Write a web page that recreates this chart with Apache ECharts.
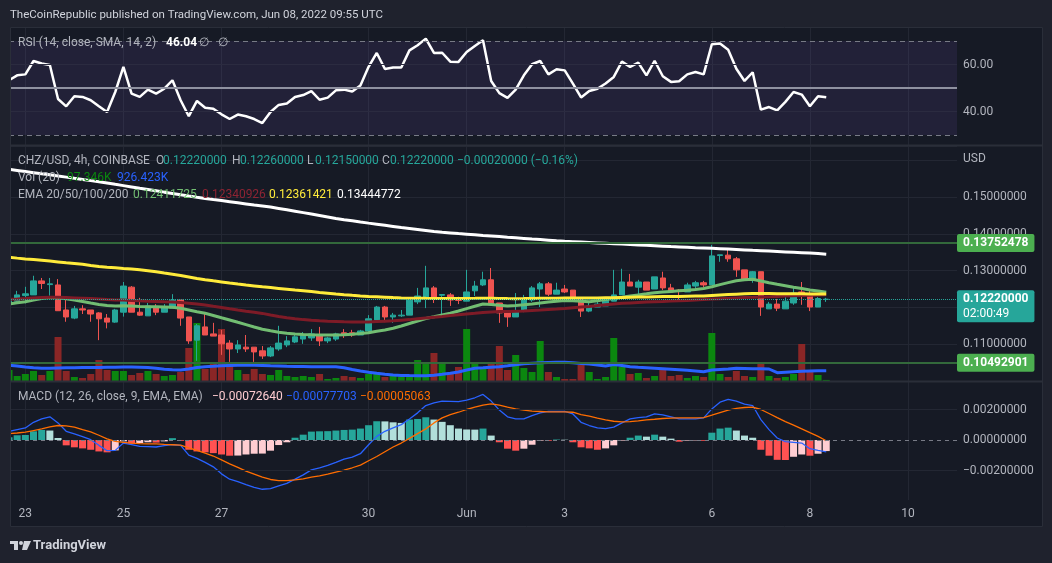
<!DOCTYPE html>
<html>
<head>
<meta charset="utf-8">
<title>CHZ/USD 4h - TradingView</title>
<script src="https://cdn.jsdelivr.net/npm/echarts@6/dist/echarts.min.js"></script>
<style>
  html, body { margin: 0; padding: 0; background: #1f222d; }
  #chart { width: 1052px; height: 563px; }
</style>
</head>
<body>
<div id="chart"></div>
<script>
// ---------- values ----------
const firstBarTime = Date.UTC(2022, 4, 22, 16); // first 4h bar, partly hidden at the left edge
const barCount = 117;                            // bars + empty slots up to the price scale
const tickDays = [23, 25, 27, 30, 1, 3, 6, 8, 10];

// [open, close, low, high]
const candles = [
  [0.1212, 0.1220, 0.1207, 0.1223], [0.1217, 0.1234, 0.1211, 0.1245], [0.1232, 0.1237, 0.1211, 0.1256],
  [0.1234, 0.1272, 0.1234, 0.1286], [0.1272, 0.1265, 0.1250, 0.1280], [0.1262, 0.1264, 0.1232, 0.1280],
  [0.1261, 0.1191, 0.1191, 0.1277], [0.1193, 0.1174, 0.1161, 0.1222], [0.1171, 0.1196, 0.1168, 0.1204],
  [0.1196, 0.1193, 0.1182, 0.1206], [0.1193, 0.1182, 0.1161, 0.1193], [0.1185, 0.1169, 0.1111, 0.1187],
  [0.1171, 0.1160, 0.1143, 0.1182], [0.1160, 0.1193, 0.1158, 0.1196], [0.1187, 0.1258, 0.1175, 0.1269],
  [0.1255, 0.1187, 0.1187, 0.1258], [0.1187, 0.1179, 0.1177, 0.1226], [0.1177, 0.1204, 0.1177, 0.1212],
  [0.1201, 0.1187, 0.1179, 0.1209], [0.1187, 0.1201, 0.1187, 0.1209], [0.1198, 0.1220, 0.1198, 0.1236],
  [0.1220, 0.1171, 0.1150, 0.1220], [0.1174, 0.1109, 0.1101, 0.1174], [0.1111, 0.1150, 0.1055, 0.1155],
  [0.1147, 0.1125, 0.1125, 0.1182], [0.1128, 0.1122, 0.1122, 0.1158], [0.1125, 0.1101, 0.1071, 0.1139],
  [0.1103, 0.1087, 0.1052, 0.1111], [0.1087, 0.1098, 0.1076, 0.1111], [0.1092, 0.1087, 0.1079, 0.1125],
  [0.1092, 0.1079, 0.1052, 0.1092], [0.1082, 0.1068, 0.1060, 0.1095], [0.1068, 0.1090, 0.1065, 0.1095],
  [0.1087, 0.1103, 0.1082, 0.1150], [0.1098, 0.1109, 0.1092, 0.1122], [0.1106, 0.1120, 0.1103, 0.1125],
  [0.1114, 0.1125, 0.1101, 0.1133], [0.1117, 0.1128, 0.1109, 0.1141], [0.1125, 0.1109, 0.1095, 0.1147],
  [0.1109, 0.1117, 0.1103, 0.1120], [0.1114, 0.1128, 0.1109, 0.1131], [0.1131, 0.1125, 0.1117, 0.1141],
  [0.1131, 0.1125, 0.1120, 0.1139], [0.1125, 0.1136, 0.1125, 0.1139], [0.1136, 0.1169, 0.1128, 0.1179],
  [0.1166, 0.1201, 0.1166, 0.1204], [0.1201, 0.1174, 0.1160, 0.1204], [0.1174, 0.1179, 0.1158, 0.1185],
  [0.1177, 0.1179, 0.1174, 0.1193], [0.1179, 0.1220, 0.1179, 0.1220], [0.1215, 0.1231, 0.1209, 0.1253],
  [0.1228, 0.1253, 0.1198, 0.1313], [0.1253, 0.1228, 0.1212, 0.1258], [0.1233, 0.1235, 0.1179, 0.1236],
  [0.1234, 0.1220, 0.1204, 0.1239], [0.1223, 0.1219, 0.1209, 0.1229], [0.1217, 0.1242, 0.1217, 0.1302],
  [0.1245, 0.1258, 0.1231, 0.1272], [0.1261, 0.1275, 0.1258, 0.1297], [0.1275, 0.1207, 0.1207, 0.1307],
  [0.1212, 0.1185, 0.1158, 0.1212], [0.1187, 0.1174, 0.1147, 0.1187], [0.1174, 0.1190, 0.1174, 0.1239],
  [0.1190, 0.1223, 0.1187, 0.1234], [0.1220, 0.1253, 0.1215, 0.1258], [0.1250, 0.1264, 0.1201, 0.1269],
  [0.1264, 0.1236, 0.1231, 0.1269], [0.1236, 0.1247, 0.1236, 0.1267], [0.1250, 0.1242, 0.1239, 0.1261],
  [0.1247, 0.1220, 0.1220, 0.1247], [0.1223, 0.1190, 0.1174, 0.1228], [0.1190, 0.1204, 0.1187, 0.1212],
  [0.1201, 0.1209, 0.1201, 0.1215], [0.1204, 0.1220, 0.1204, 0.1226], [0.1217, 0.1234, 0.1217, 0.1302],
  [0.1234, 0.1269, 0.1234, 0.1305], [0.1269, 0.1258, 0.1258, 0.1291], [0.1255, 0.1269, 0.1236, 0.1275],
  [0.1269, 0.1247, 0.1247, 0.1269], [0.1250, 0.1283, 0.1250, 0.1283], [0.1280, 0.1253, 0.1247, 0.1297],
  [0.1253, 0.1242, 0.1242, 0.1264], [0.1247, 0.1245, 0.1220, 0.1250], [0.1242, 0.1261, 0.1242, 0.1267],
  [0.1258, 0.1267, 0.1247, 0.1272], [0.1267, 0.1261, 0.1255, 0.1272], [0.1261, 0.1340, 0.1261, 0.1370],
  [0.1341, 0.1343, 0.1324, 0.1343], [0.1342, 0.1332, 0.1324, 0.1356], [0.1332, 0.1302, 0.1283, 0.1337],
  [0.1302, 0.1277, 0.1277, 0.1302], [0.1277, 0.1297, 0.1267, 0.1299], [0.1297, 0.1201, 0.1177, 0.1297],
  [0.1196, 0.1209, 0.1196, 0.1215], [0.1209, 0.1198, 0.1190, 0.1223], [0.1196, 0.1217, 0.1196, 0.1228],
  [0.1212, 0.1239, 0.1207, 0.1253], [0.1242, 0.1231, 0.1207, 0.1269], [0.1231, 0.1201, 0.1190, 0.1250],
  [0.1201, 0.1224, 0.1201, 0.1228], [0.1222, 0.1222, 0.1215, 0.1226]
];

// volume in thousands
const volumeK = [
  990, 450, 630, 900, 540, 900, 3960, 900, 360, 270,
  630, 1890, 990, 900, 900, 540, 720, 900, 630, 450,
  540, 810, 2970, 5220, 1080, 1530, 4680, 1530, 990, 630,
  1080, 630, 540, 990, 450, 360, 450, 360, 630, 180,
  270, 450, 360, 270, 630, 630, 360, 450, 360, 450,
  1890, 1710, 2520, 1530, 720, 1260, 4680, 1710, 1170, 1530,
  3150, 990, 2340, 1170, 810, 3600, 810, 360, 180, 180,
  1440, 810, 180, 360, 3870, 1260, 630, 720, 270, 450,
  990, 450, 540, 270, 450, 360, 4320, 630, 360, 900,
  450, 360, 1620, 450, 270, 360, 630, 3330, 810, 540,
  97.346
];
const volumeMaK = [
  1413, 1350, 1260, 1188, 1143, 1143, 1170, 1188, 1197, 1206,
  1215, 1224, 1233, 1242, 1251, 1260, 1242, 1215, 1143, 1062,
  1008, 990, 1080, 1215, 1287, 1323, 1368, 1395, 1422, 1440,
  1422, 1395, 1368, 1350, 1323, 1305, 1296, 1287, 1287, 1287,
  1278, 1188, 1035, 900, 792, 693, 612, 540, 504, 486,
  477, 477, 522, 603, 702, 810, 990, 1143, 1188, 1242,
  1287, 1368, 1458, 1548, 1593, 1638, 1665, 1683, 1683, 1638,
  1584, 1530, 1440, 1350, 1485, 1395, 1287, 1233, 1188, 1143,
  1098, 1053, 1008, 963, 900, 837, 990, 1035, 1080, 1143,
  1125, 1107, 1098, 1080, 747, 792, 837, 882, 900, 918,
  926.423
];

const ema20 = [
  0.12092, 0.12125, 0.12155, 0.12201, 0.12242, 0.12269, 0.12261, 0.12234, 0.12201, 0.12160,
  0.12119, 0.12079, 0.12052, 0.12038, 0.12043, 0.12038, 0.12027, 0.12019, 0.12016, 0.12011,
  0.12005, 0.11975, 0.11929, 0.11880, 0.11840, 0.11780, 0.11717, 0.11658, 0.11595, 0.11533,
  0.11467, 0.11405, 0.11364, 0.11326, 0.11296, 0.11277, 0.11264, 0.11255, 0.11250, 0.11247,
  0.11250, 0.11255, 0.11269, 0.11288, 0.11312, 0.11353, 0.11386, 0.11432, 0.11494, 0.11562,
  0.11630, 0.11698, 0.11744, 0.11793, 0.11840, 0.11902, 0.11967, 0.12030, 0.12092, 0.12079,
  0.12057, 0.12038, 0.12052, 0.12071, 0.12092, 0.12119, 0.12147, 0.12168, 0.12187, 0.12179,
  0.12166, 0.12155, 0.12179, 0.12212, 0.12242, 0.12274, 0.12307, 0.12340, 0.12369, 0.12399,
  0.12418, 0.12435, 0.12451, 0.12467, 0.12486, 0.12514, 0.12562, 0.12620, 0.12674, 0.12725,
  0.12750, 0.12763, 0.12717, 0.12671, 0.12628, 0.12587, 0.12546, 0.12514, 0.12475, 0.12446,
  0.12411725
];
const ema50 = [
  0.12220, 0.12228, 0.12239, 0.12253, 0.12266, 0.12274, 0.12274, 0.12266, 0.12258, 0.12250,
  0.12239, 0.12228, 0.12215, 0.12204, 0.12198, 0.12190, 0.12179, 0.12168, 0.12160, 0.12152,
  0.12147, 0.12136, 0.12114, 0.12092, 0.12065, 0.12030, 0.11997, 0.11962, 0.11929, 0.11897,
  0.11867, 0.11837, 0.11793, 0.11753, 0.11717, 0.11690, 0.11668, 0.11649, 0.11636, 0.11625,
  0.11617, 0.11609, 0.11603, 0.11600, 0.11603, 0.11614, 0.11625, 0.11636, 0.11652, 0.11668,
  0.11690, 0.11712, 0.11734, 0.11755, 0.11777, 0.11799, 0.11821, 0.11842, 0.11864, 0.11878,
  0.11886, 0.11891, 0.11897, 0.11902, 0.11916, 0.11929, 0.11943, 0.11956, 0.11970, 0.11989,
  0.12008, 0.12027, 0.12049, 0.12071, 0.12092, 0.12111, 0.12122, 0.12133, 0.12144, 0.12155,
  0.12163, 0.12174, 0.12182, 0.12190, 0.12201, 0.12212, 0.12225, 0.12236, 0.12247, 0.12258,
  0.12266, 0.12274, 0.12283, 0.12291, 0.12299, 0.12307, 0.12315, 0.12323, 0.12329, 0.12334,
  0.12340926
];
const ema100 = [
  0.13361, 0.13339, 0.13318, 0.13299, 0.13280, 0.13258, 0.13236, 0.13214, 0.13193, 0.13171,
  0.13138, 0.13111, 0.13092, 0.13076, 0.13059, 0.13043, 0.13021, 0.12997, 0.12967, 0.12934,
  0.12902, 0.12866, 0.12826, 0.12785, 0.12752, 0.12722, 0.12693, 0.12663, 0.12635, 0.12608,
  0.12584, 0.12559, 0.12538, 0.12516, 0.12494, 0.12472, 0.12451, 0.12429, 0.12407, 0.12386,
  0.12364, 0.12345, 0.12328, 0.12312, 0.12299, 0.12288, 0.12277, 0.12266, 0.12258, 0.12252,
  0.12250, 0.12247, 0.12245, 0.12245, 0.12244, 0.12243, 0.12244, 0.12246, 0.12250, 0.12249,
  0.12245, 0.12240, 0.12238, 0.12240, 0.12243, 0.12248, 0.12250, 0.12252, 0.12255, 0.12257,
  0.12255, 0.12256, 0.12258, 0.12261, 0.12264, 0.12270, 0.12275, 0.12280, 0.12284, 0.12290,
  0.12294, 0.12297, 0.12299, 0.12303, 0.12307, 0.12310, 0.12325, 0.12338, 0.12350, 0.12360,
  0.12368, 0.12376, 0.12378, 0.12376, 0.12373, 0.12371, 0.12370, 0.12368, 0.12364, 0.12363,
  0.12361421
];
const ema200 = [
  0.15752, 0.15722, 0.15692, 0.15662, 0.15632, 0.15603, 0.15570, 0.15540, 0.15507, 0.15478,
  0.15445, 0.15415, 0.15380, 0.15344, 0.15309, 0.15274, 0.15238, 0.15203, 0.15168, 0.15132,
  0.15097, 0.15062, 0.15026, 0.14991, 0.14961, 0.14931, 0.14902, 0.14872, 0.14842, 0.14812,
  0.14782, 0.14755, 0.14728, 0.14690, 0.14652, 0.14614, 0.14576, 0.14538, 0.14497, 0.14456,
  0.14415, 0.14383, 0.14353, 0.14320, 0.14290, 0.14261, 0.14231, 0.14201, 0.14171, 0.14144,
  0.14117, 0.14090, 0.14063, 0.14043, 0.14024, 0.14005, 0.13989, 0.13973, 0.13956, 0.13940,
  0.13924, 0.13907, 0.13891, 0.13875, 0.13858, 0.13842, 0.13826, 0.13809, 0.13796, 0.13785,
  0.13774, 0.13763, 0.13752, 0.13741, 0.13730, 0.13720, 0.13709, 0.13698, 0.13687, 0.13676,
  0.13665, 0.13654, 0.13644, 0.13633, 0.13622, 0.13614, 0.13606, 0.13595, 0.13584, 0.13573,
  0.13562, 0.13551, 0.13541, 0.13530, 0.13519, 0.13508, 0.13497, 0.13486, 0.13475, 0.13462,
  0.13444772
];

const rsi = [
  53.3, 55.4, 55.8, 61.5, 60.4, 59.8, 45.3, 42.2, 46.5, 46.2,
  44.8, 42.2, 39.8, 48.3, 59.0, 47.6, 46.2, 49.3, 47.6, 49.7,
  53.3, 44.8, 38.0, 44.5, 41.6, 41.2, 38.8, 36.8, 38.7, 38.0,
  36.8, 35.1, 39.8, 42.8, 43.4, 46.2, 47.0, 48.7, 45.0, 45.9,
  49.0, 49.3, 48.5, 51.1, 59.0, 64.9, 58.1, 58.7, 58.7, 66.0,
  68.2, 71.0, 64.9, 65.0, 61.2, 61.1, 65.3, 67.9, 70.3, 53.0,
  47.8, 45.8, 49.3, 55.4, 60.1, 61.5, 55.8, 58.0, 57.5, 51.9,
  46.0, 48.7, 49.7, 51.9, 54.7, 61.2, 59.0, 60.8, 55.4, 61.6,
  55.0, 52.6, 52.9, 55.8, 56.8, 55.8, 68.6, 68.9, 66.3, 58.2,
  53.0, 56.7, 40.8, 41.9, 40.5, 44.1, 48.3, 47.2, 42.2, 46.5,
  46.04
];
const rsiUpper = 70;
const rsiMiddle = 50;
const rsiLower = 30;

const macdLine = [
  0.57e-3, 0.68e-3, 0.79e-3, 1.16e-3, 1.38e-3, 1.52e-3, 1.12e-3, 0.57e-3, 0.40e-3, 0.22e-3,
  0.02e-3, -0.35e-3, -0.70e-3, -0.68e-3, -0.20e-3, -0.31e-3, -0.42e-3, -0.44e-3, -0.46e-3, -0.37e-3,
  -0.31e-3, -0.35e-3, -0.99e-3, -1.21e-3, -1.47e-3, -1.76e-3, -2.22e-3, -2.57e-3, -2.73e-3, -2.92e-3,
  -3.10e-3, -3.23e-3, -3.19e-3, -3.01e-3, -2.84e-3, -2.57e-3, -2.29e-3, -1.96e-3, -1.82e-3, -1.67e-3,
  -1.47e-3, -1.25e-3, -1.12e-3, -0.90e-3, -0.31e-3, 0.24e-3, 0.57e-3, 0.79e-3, 1.01e-3, 1.38e-3,
  1.78e-3, 2.26e-3, 2.44e-3, 2.55e-3, 2.53e-3, 2.51e-3, 2.62e-3, 2.77e-3, 2.99e-3, 2.55e-3,
  1.96e-3, 1.52e-3, 1.38e-3, 1.38e-3, 1.60e-3, 1.78e-3, 1.87e-3, 1.87e-3, 1.87e-3, 1.71e-3,
  1.16e-3, 0.95e-3, 0.79e-3, 0.75e-3, 0.84e-3, 1.12e-3, 1.38e-3, 1.47e-3, 1.52e-3, 1.71e-3,
  1.65e-3, 1.52e-3, 1.38e-3, 1.38e-3, 1.38e-3, 1.45e-3, 2.04e-3, 2.48e-3, 2.66e-3, 2.55e-3,
  2.35e-3, 2.26e-3, 1.34e-3, 0.68e-3, 0.13e-3, -0.11e-3, -0.15e-3, -0.20e-3, -0.57e-3, -0.68e-3,
  -0.77703e-3
];
const signalLine = [
  0.42e-3, 0.46e-3, 0.51e-3, 0.62e-3, 0.73e-3, 0.86e-3, 0.95e-3, 0.92e-3, 0.84e-3, 0.68e-3,
  0.53e-3, 0.31e-3, 0.07e-3, -0.09e-3, -0.15e-3, -0.20e-3, -0.24e-3, -0.26e-3, -0.26e-3, -0.29e-3,
  -0.31e-3, -0.33e-3, -0.51e-3, -0.68e-3, -0.86e-3, -1.05e-3, -1.30e-3, -1.56e-3, -1.80e-3, -2.04e-3,
  -2.24e-3, -2.44e-3, -2.59e-3, -2.66e-3, -2.66e-3, -2.62e-3, -2.55e-3, -2.44e-3, -2.35e-3, -2.24e-3,
  -2.11e-3, -1.98e-3, -1.82e-3, -1.65e-3, -1.36e-3, -1.08e-3, -0.77e-3, -0.46e-3, -0.20e-3, 0.11e-3,
  0.42e-3, 0.73e-3, 1.12e-3, 1.45e-3, 1.67e-3, 1.82e-3, 2.00e-3, 2.15e-3, 2.29e-3, 2.37e-3,
  2.29e-3, 2.15e-3, 2.04e-3, 1.96e-3, 1.89e-3, 1.87e-3, 1.85e-3, 1.85e-3, 1.85e-3, 1.82e-3,
  1.67e-3, 1.56e-3, 1.43e-3, 1.32e-3, 1.23e-3, 1.19e-3, 1.21e-3, 1.25e-3, 1.32e-3, 1.36e-3,
  1.41e-3, 1.43e-3, 1.45e-3, 1.45e-3, 1.45e-3, 1.47e-3, 1.63e-3, 1.80e-3, 1.96e-3, 2.07e-3,
  2.13e-3, 2.15e-3, 2.00e-3, 1.74e-3, 1.47e-3, 1.21e-3, 0.97e-3, 0.73e-3, 0.48e-3, 0.24e-3,
  -0.05063e-3
];
const macdHist = [
  0.18e-3, 0.31e-3, 0.33e-3, 0.57e-3, 0.66e-3, 0.62e-3, 0.13e-3, -0.35e-3, -0.48e-3, -0.55e-3,
  -0.64e-3, -0.75e-3, -0.81e-3, -0.68e-3, -0.09e-3, -0.24e-3, -0.20e-3, -0.15e-3, -0.17e-3, -0.09e-3,
  0.12e-3, -0.05e-3, -0.64e-3, -0.75e-3, -0.81e-3, -0.86e-3, -0.95e-3, -1.03e-3, -1.02e-3, -0.95e-3,
  -0.90e-3, -0.89e-3, -0.70e-3, -0.33e-3, -0.15e-3, 0.15e-3, 0.35e-3, 0.55e-3, 0.57e-3, 0.58e-3,
  0.62e-3, 0.66e-3, 0.68e-3, 0.75e-3, 0.97e-3, 1.23e-3, 1.22e-3, 1.16e-3, 1.12e-3, 1.34e-3,
  1.38e-3, 1.49e-3, 1.34e-3, 1.19e-3, 0.97e-3, 0.75e-3, 0.69e-3, 0.68e-3, 0.75e-3, 0.29e-3,
  -0.15e-3, -0.57e-3, -0.70e-3, -0.57e-3, -0.31e-3, -0.04e-3, -0.05e-3, 0.03e-3, 0.02e-3, -0.15e-3,
  -0.48e-3, -0.55e-3, -0.64e-3, -0.55e-3, -0.35e-3, -0.04e-3, 0.15e-3, 0.29e-3, 0.22e-3, 0.35e-3,
  0.22e-3, 0.09e-3, -0.11e-3, -0.04e-3, -0.03e-3, -0.05e-3, 0.48e-3, 0.75e-3, 0.81e-3, 0.62e-3,
  0.29e-3, 0.15e-3, -0.64e-3, -1.03e-3, -1.30e-3, -1.31e-3, -1.10e-3, -0.95e-3, -1.03e-3, -0.90e-3,
  -0.72640e-3
];

const levelLines = [0.13752478, 0.10492901];
const lastPrice = 0.1222;
const countdown = '02:00:49';

// ---------- look ----------
const FONT = 'Roboto, "Liberation Sans", sans-serif';
const C = {
  pane: '#161a25',
  outer: '#1f222d',
  border: '#2a2e39',
  grid: '#232733',
  text: '#b2b5be',
  up: '#26a69a',
  down: '#ef5350',
  volUp: '#0b870f',
  volDown: '#8a2626',
  ema20: '#72bd72',
  ema50: '#7e1b27',
  ema100: '#ffeb3b',
  ema200: '#ffffff',
  volMa: '#2962ff',
  macd: '#2962ff',
  signal: '#ff6d00',
  level: '#33693b',
  levelBox: '#4caf50'
};

// ---------- category axis ----------
const times = [];
for (let i = 0; i < barCount; i++) {
  const d = new Date(firstBarTime + i * 4 * 3600 * 1000);
  times.push(d.toISOString().slice(0, 16).replace('T', ' '));
}
function isDayTick(i) {
  const t = times[i];
  return t.slice(11) === '00:00' && tickDays.indexOf(+t.slice(8, 10)) >= 0;
}
function near(v, list, eps) {
  return list.some(function (t) { return Math.abs(v - t) < eps; });
}

function xAxisFor(gridIndex, withLabels, withGrid) {
  return {
    type: 'category',
    gridIndex: gridIndex,
    data: times,
    boundaryGap: false,
    axisLine: { show: false },
    axisTick: { show: false },
    axisLabel: {
      show: withLabels,
      interval: isDayTick,
      margin: 8,
      color: C.text,
      fontSize: 12,
      fontFamily: FONT,
      formatter: function (v) {
        const day = +v.slice(8, 10);
        return day === 1 ? 'Jun' : String(day);
      }
    },
    splitLine: { show: withGrid, interval: isDayTick, lineStyle: { color: C.grid, width: 1 } }
  };
}

const gridLeft = 9;
const gridRight = 95;

// ---------- series data ----------
const candleData = candles.map(function (c) {
  const col = c[1] >= c[0] ? C.up : C.down;
  return { value: c, itemStyle: { color: col, color0: col, borderColor: col, borderColor0: col } };
});
const volumeData = volumeK.map(function (v, i) {
  return { value: v, itemStyle: { color: candles[i][1] >= candles[i][0] ? C.volUp : C.volDown } };
});
const histData = macdHist.map(function (h, i) {
  const prev = i > 0 ? macdHist[i - 1] : -Infinity;
  let col;
  if (h >= 0) col = h >= prev ? '#26a69a' : '#b2dfdb';
  else col = h < prev ? '#ff5252' : '#ffcdd2';
  return { value: h, itemStyle: { color: col } };
});

function levelLabel(v) {
  return {
    show: true, position: 'end', distance: 0,
    formatter: v.toFixed(8),
    color: '#ffffff', backgroundColor: C.levelBox, fontWeight: 'bold',
    fontSize: 12, fontFamily: FONT, padding: [3, 6, 3, 6], borderRadius: 2
  };
}

function lineSeries(name, data, color, width, xi, yi) {
  return {
    name: name, type: 'line', data: data, xAxisIndex: xi, yAxisIndex: yi,
    symbol: 'none', showSymbol: false, silent: true,
    lineStyle: { color: color, width: width }
  };
}

// ---------- legend / frame texts ----------
function txt(x, y, s, color, size, weight) {
  return {
    type: 'text', x: x, y: y, z: 110, silent: true,
    style: {
      text: s, fill: color, fontSize: size || 12, fontFamily: FONT,
      fontWeight: weight || 'normal', verticalAlign: 'middle', align: 'left'
    }
  };
}

const graphics = [
  // outer margins around the chart frame
  { type: 'rect', z: 100, silent: true, shape: { x: 0, y: 0, width: 1052, height: 27 }, style: { fill: C.outer } },
  { type: 'rect', z: 100, silent: true, shape: { x: 0, y: 0, width: 10, height: 563 }, style: { fill: C.outer } },
  { type: 'rect', z: 100, silent: true, shape: { x: 1043, y: 0, width: 9, height: 563 }, style: { fill: C.outer } },
  { type: 'rect', z: 100, silent: true, shape: { x: 0, y: 527, width: 1052, height: 36 }, style: { fill: C.outer } },
  { type: 'rect', z: 101, silent: true, shape: { x: 10.5, y: 27.5, width: 1032, height: 499 }, style: { fill: null, stroke: C.border, lineWidth: 1 } },
  { type: 'line', z: 101, silent: true, shape: { x1: 10, y1: 145.5, x2: 1043, y2: 145.5 }, style: { stroke: C.border, lineWidth: 2 } },
  { type: 'line', z: 101, silent: true, shape: { x1: 10, y1: 381.5, x2: 1043, y2: 381.5 }, style: { stroke: C.border, lineWidth: 2 } },

  txt(10, 15, 'TheCoinRepublic published on TradingView.com, Jun 08, 2022 09:55 UTC', '#d1d4dc', 11.5),

  // RSI legend
  txt(18, 43, 'RSI (14, close, SMA, 14, 2)', C.text),
  txt(166, 43, '46.04', '#ffffff', 12, 'bold'),
  txt(199, 43, '\u2205', C.text),
  txt(218, 43, '\u2205', C.text),

  // price legend
  txt(18, 161, 'CHZ/USD, 4h, COINBASE', C.text),
  txt(156, 161, 'O', C.text), txt(163, 161, '0.12220000', C.up),
  txt(232, 161, 'H', C.text), txt(240, 161, '0.12260000', C.up),
  txt(307, 161, 'L', C.text), txt(315, 161, '0.12150000', C.up),
  txt(382, 161, 'C', C.text), txt(390, 161, '0.12220000', C.up),
  txt(457, 161, '\u22120.00020000 (\u22120.16%)', C.up),
  txt(18, 178, 'Vol (20)', C.text),
  txt(67, 178, '97.346K', C.volUp),
  txt(117, 178, '926.423K', C.volMa),
  txt(18, 195, 'EMA 20/50/100/200', C.text),
  txt(133, 195, '0.12411725', C.ema20),
  txt(202, 195, '0.12340926', '#8e2433'),
  txt(269, 195, '0.12361421', C.ema100),
  txt(337, 195, '0.13444772', C.ema200),
  txt(963, 159, 'USD', C.text),

  // MACD legend
  txt(18, 397, 'MACD (12, 26, close, 9, EMA, EMA)', C.text),
  txt(212, 397, '\u22120.00072640', '#ffcdd2'),
  txt(286, 397, '\u22120.00077703', C.macd),
  txt(360, 397, '\u22120.00005063', C.signal),

  // TradingView mark
  { type: 'rect', z: 110, silent: true, shape: { x: 10, y: 541, width: 8, height: 3 }, style: { fill: '#d1d4dc' } },
  { type: 'rect', z: 110, silent: true, shape: { x: 14, y: 541, width: 4, height: 9 }, style: { fill: '#d1d4dc' } },
  { type: 'circle', z: 110, silent: true, shape: { cx: 21, cy: 543, r: 2 }, style: { fill: '#d1d4dc' } },
  { type: 'polygon', z: 110, silent: true, shape: { points: [[24, 541], [31, 541], [27, 550], [22, 550]] }, style: { fill: '#d1d4dc' } },
  txt(33, 546, 'TradingView', '#d1d4dc', 13, 'bold')
];

// ---------- chart ----------
const chart = echarts.init(document.getElementById('chart'));

chart.setOption({
  animation: false,
  backgroundColor: C.pane,
  textStyle: { fontFamily: FONT },
  grid: [
    { left: gridLeft, right: gridRight, top: 28, height: 117 },   // RSI
    { left: gridLeft, right: gridRight, top: 146, height: 235 },  // price
    { left: gridLeft, right: gridRight, top: 146, height: 235 },  // volume overlay
    { left: gridLeft, right: gridRight, top: 382, height: 118 }   // MACD
  ],
  xAxis: [
    xAxisFor(0, false, true),
    xAxisFor(1, false, true),
    xAxisFor(2, false, false),
    xAxisFor(3, true, true)
  ],
  yAxis: [
    {
      gridIndex: 0, type: 'value', position: 'right', min: 25.745, max: 75.532,
      axisLine: { show: false }, axisTick: { show: false }, splitLine: { show: false },
      axisLabel: {
        color: C.text, fontSize: 12, fontFamily: FONT, margin: 6,
        formatter: function (v) { return near(v, [40, 60], 1e-6) ? v.toFixed(2) : ''; }
      }
    },
    {
      gridIndex: 1, type: 'value', position: 'right', min: 0.10, max: 0.163859,
      axisLine: { show: false }, axisTick: { show: false },
      splitLine: { show: true, lineStyle: { color: C.grid, width: 1 } },
      axisLabel: {
        color: C.text, fontSize: 12, fontFamily: FONT, margin: 6,
        formatter: function (v) { return near(v, [0.11, 0.13, 0.14, 0.15], 1e-7) ? v.toFixed(8) : ''; }
      }
    },
    { gridIndex: 2, type: 'value', min: 0, max: 21150, show: false },
    {
      gridIndex: 3, type: 'value', position: 'right', min: -0.0039344, max: 0.0038033,
      axisLine: { show: false }, axisTick: { show: false }, splitLine: { show: false },
      axisLabel: {
        color: C.text, fontSize: 12, fontFamily: FONT, margin: 6,
        formatter: function (v) {
          if (!near(v, [-0.002, 0, 0.002], 1e-9)) return '';
          return (v < -1e-9 ? '\u2212' : '') + Math.abs(v).toFixed(8);
        }
      }
    }
  ],
  series: [
    {
      name: 'Volume', type: 'bar', xAxisIndex: 2, yAxisIndex: 2, data: volumeData,
      barWidth: 7, silent: true
    },
    lineSeries('Vol MA', volumeMaK, C.volMa, 3, 2, 2),
    lineSeries('EMA20', ema20, C.ema20, 3, 1, 1),
    lineSeries('EMA50', ema50, C.ema50, 3, 1, 1),
    lineSeries('EMA100', ema100, C.ema100, 3, 1, 1),
    lineSeries('EMA200', ema200, C.ema200, 3, 1, 1),
    {
      name: 'CHZ/USD', type: 'candlestick', xAxisIndex: 1, yAxisIndex: 1, data: candleData,
      barWidth: 6, clip: true, silent: true,
      markLine: {
        silent: true, symbol: 'none', animation: false, precision: 8,
        data: [
          { yAxis: levelLines[0], lineStyle: { color: C.level, width: 2, type: 'solid' }, label: levelLabel(levelLines[0]) },
          { yAxis: levelLines[1], lineStyle: { color: C.level, width: 2, type: 'solid' }, label: levelLabel(levelLines[1]) },
          {
            yAxis: lastPrice,
            lineStyle: { color: C.up, width: 1, type: 'dotted' },
            label: {
              show: true, position: 'end', distance: 0, offset: [0, 7],
              formatter: '{p|' + lastPrice.toFixed(8) + '}\n{t|' + countdown + '}',
              backgroundColor: C.up, padding: [1, 6, 1, 6], borderRadius: 2,
              rich: {
                p: { color: '#ffffff', fontWeight: 'bold', fontSize: 12, fontFamily: FONT, lineHeight: 15 },
                t: { color: '#ffffff', fontSize: 12, fontFamily: FONT, lineHeight: 15 }
              }
            }
          }
        ]
      }
    },
    {
      name: 'RSI', type: 'line', xAxisIndex: 0, yAxisIndex: 0, data: rsi,
      symbol: 'none', showSymbol: false, silent: true,
      lineStyle: { color: '#ffffff', width: 2.5 },
      markArea: {
        silent: true,
        itemStyle: { color: 'rgba(126,87,194,0.12)' },
        data: [[{ yAxis: rsiUpper }, { yAxis: rsiLower }]]
      },
      markLine: {
        silent: true, symbol: 'none', label: { show: false },
        data: [
          { yAxis: 60, lineStyle: { color: '#2b2b40', width: 1, type: 'solid' } },
          { yAxis: 40, lineStyle: { color: '#2b2b40', width: 1, type: 'solid' } },
          { yAxis: rsiUpper, lineStyle: { color: '#787b86', width: 1, type: [5, 4] } },
          { yAxis: rsiLower, lineStyle: { color: '#787b86', width: 1, type: [5, 4] } },
          { yAxis: rsiMiddle, lineStyle: { color: '#8f91a0', width: 2, type: 'solid' } }
        ]
      }
    },
    {
      name: 'Histogram', type: 'bar', xAxisIndex: 3, yAxisIndex: 3, data: histData,
      barWidth: 7, silent: true,
      markLine: {
        silent: true, symbol: 'none', label: { show: false }, precision: 8,
        data: [
          { yAxis: 0.002, lineStyle: { color: C.grid, width: 1, type: 'solid' } },
          { yAxis: -0.002, lineStyle: { color: C.grid, width: 1, type: 'solid' } },
          { yAxis: 0, lineStyle: { color: '#787b86', width: 1, type: [4, 4] } }
        ]
      }
    },
    lineSeries('MACD', macdLine, C.macd, 1.3, 3, 3),
    lineSeries('Signal', signalLine, C.signal, 1.3, 3, 3)
  ],
  graphic: graphics
});
</script>
</body>
</html>
